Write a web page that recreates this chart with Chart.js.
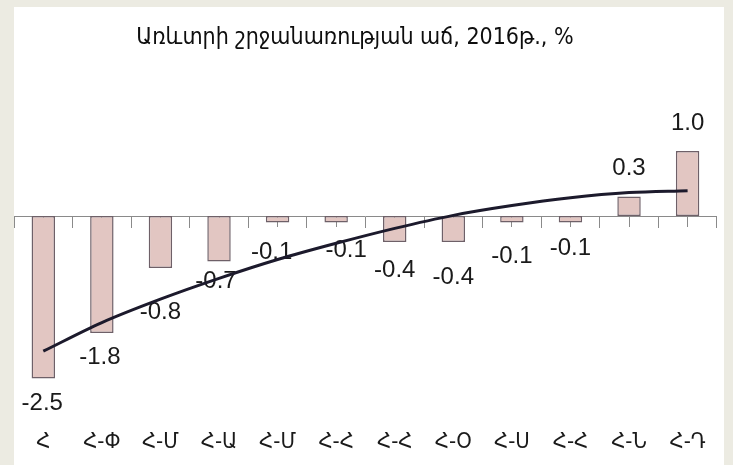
<!DOCTYPE html>
<html lang="hy">
<head>
    <meta charset="UTF-8">
    <title>Առևտրի շրջանառության աճ</title>
    <script src="https://cdn.jsdelivr.net/npm/chart.js"></script>
    <style>
        body {
            margin: 0;
            background: #ecebe2;
            width: 733px;
            height: 465px;
            overflow: hidden;
        }
        #panel {
            position: absolute;
            left: 14px;
            top: 7px;
            width: 710px;
            height: 458px;
            background: #fff;
        }
    </style>
</head>
<body>

<div id="panel"><canvas id="growthChart"></canvas></div>

<script>
    const TITLE = 'Առևտրի շրջանառության աճ, 2016թ., %';
    const regions = ['Հ', 'Հ-Փ', 'Հ-Մ', 'Հ-Ա', 'Հ-Մ', 'Հ-Հ', 'Հ-Հ', 'Հ-Օ', 'Հ-Ս', 'Հ-Հ', 'Հ-Ն', 'Հ-Դ'];
    const growth = [-2.5, -1.8, -0.8, -0.7, -0.1, -0.1, -0.4, -0.4, -0.1, -0.1, 0.3, 1.0];
    const trend = [-2.08, -1.64, -1.28, -0.96, -0.67, -0.42, -0.19, 0.01, 0.16, 0.28, 0.36, 0.39];

    // where each value label sits relative to the end of its bar
    const labelShift = [[-1, 25], [-2, 24], [0, 44], [-3, 20], [-6, 30], [10, 28],
        [0, 28], [0, 35], [0, 34], [0, 26], [0, -28], [0, -28]];

    const valueLabels = {
        id: 'valueLabels',
        beforeDatasetsDraw(chart) {
            const ctx = chart.ctx;
            const meta = chart.getDatasetMeta(1);
            ctx.save();
            ctx.font = '24px "Liberation Sans", Arial, sans-serif';
            ctx.fillStyle = '#1a1a1a';
            ctx.textAlign = 'center';
            ctx.textBaseline = 'middle';
            meta.data.forEach((bar, i) => {
                const [dx, dy] = labelShift[i];
                ctx.fillText(growth[i].toFixed(1), bar.x + dx, bar.y + dy);
            });
            ctx.restore();
        }
    };

    const titleText = {
        id: 'titleText',
        afterDraw(chart) {
            const ctx = chart.ctx;
            ctx.save();
            ctx.font = '23px "DejaVu Sans Condensed", "DejaVu Sans", sans-serif';
            ctx.fillStyle = '#0e0e0e';
            ctx.textAlign = 'center';
            ctx.textBaseline = 'middle';
            ctx.fillText(TITLE, 341, 31);
            ctx.restore();
        }
    };

    // axes pinned at zero take no room; the label axis only needs padding + one line
    const noRoom = scale => { scale.height = 0; };
    const labelRoom = scale => { scale.height = 44; };

    new Chart(document.getElementById('growthChart'), {
        type: 'bar',
        data: {
            labels: regions,
            datasets: [{
                type: 'line',
                data: trend,
                borderColor: '#1c1a2c',
                borderWidth: 3,
                pointRadius: 0,
                cubicInterpolationMode: 'monotone',
                order: 0
            }, {
                data: growth,
                backgroundColor: '#e2c6c2',
                borderColor: '#6e6068',
                borderWidth: 1.5,
                borderSkipped: false,
                barPercentage: 0.4,
                categoryPercentage: 1,
                order: 1
            }]
        },
        options: {
            responsive: true,
            maintainAspectRatio: false,
            animation: false,
            layout: {padding: {top: 79, right: 7, bottom: 10, left: 0}},
            plugins: {legend: {display: false}, tooltip: {enabled: false}},
            scales: {
                y: {display: false, min: -3, max: 2},
                x: {
                    position: {y: 0},
                    offset: true,
                    afterFit: noRoom,
                    ticks: {display: false},
                    grid: {offset: true, drawOnChartArea: false, tickLength: 11, color: '#8a8a8a'},
                    border: {display: true, color: '#8a8a8a', width: 1}
                },
                xc: {
                    type: 'category',
                    position: {y: 0},
                    offset: true,
                    afterFit: noRoom,
                    ticks: {display: false},
                    grid: {offset: false, drawOnChartArea: false, tickLength: 11, color: '#8a8a8a'},
                    border: {display: false}
                },
                xl: {
                    type: 'category',
                    position: 'bottom',
                    offset: true,
                    afterFit: labelRoom,
                    grid: {display: false, drawTicks: false},
                    border: {display: false},
                    ticks: {
                        padding: 18,
                        maxRotation: 0,
                        autoSkip: false,
                        color: '#1a1a1a',
                        font: {family: '"DejaVu Sans Condensed", "DejaVu Sans", sans-serif', size: 22}
                    }
                }
            }
        },
        plugins: [valueLabels, titleText]
    });
</script>
</body>
</html>
